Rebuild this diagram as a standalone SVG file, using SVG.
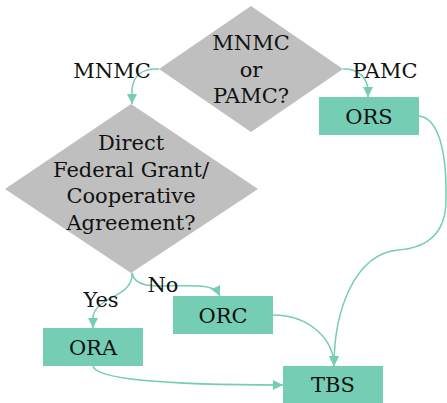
<svg xmlns="http://www.w3.org/2000/svg" width="447" height="403" viewBox="0 0 447 403">
<style>
.dec{fill:#bfbfbf}
.box{fill:#75cdb3}
.t{font-family:"DejaVu Serif",serif;font-size:21px;fill:#111;text-anchor:middle}
.e{fill:none;stroke:#75cdb3;stroke-width:1.5}
</style>
<defs>
<marker id="ah" viewBox="0 0 10 10" refX="10" refY="5" markerWidth="10" markerHeight="10" markerUnits="userSpaceOnUse" orient="auto">
<path d="M0,0 L10,5 L0,10 Z" fill="#75cdb3"/>
</marker>
</defs>
<rect width="447" height="403" fill="#fff"/>
<g id="q1">
<polygon class="dec" points="251,6 343,69 251,132 159,69"/>
<text class="t" x="251" y="50">MNMC</text>
<text class="t" x="251" y="77">or</text>
<text class="t" x="251" y="103">PAMC?</text>
</g>
<g id="q2">
<polygon class="dec" points="131,104 258,189 131,273 5,189"/>
<text class="t" x="131" y="150">Direct</text>
<text class="t" x="131" y="177">Federal Grant/</text>
<text class="t" x="131" y="203">Cooperative</text>
<text class="t" x="131" y="230">Agreement?</text>
</g>
<g id="ors">
<rect class="box" x="319" y="97" width="100" height="38"/>
<text class="t" x="369" y="124">ORS</text>
</g>
<g id="orc">
<rect class="box" x="173" y="296" width="100" height="38"/>
<text class="t" x="223" y="323">ORC</text>
</g>
<g id="ora">
<rect class="box" x="43" y="328" width="100" height="38"/>
<text class="t" x="93" y="355">ORA</text>
</g>
<g id="tbs">
<rect class="box" x="283" y="366" width="100" height="38"/>
<text class="t" x="333" y="392">TBS</text>
</g>
<g id="edges">
<path class="e" marker-end="url(#ah)" d="M159,69 C142,68 133,76 132,90 L132,104"/>
<path class="e" marker-end="url(#ah)" d="M343,69 C356,68 366,76 368,88 L368,97"/>
<path class="e" marker-end="url(#ah)" d="M419,116 C438,118 447,150 446,200 C446,236 425,248 398,250 C355,254 334,310 334,366"/>
<path class="e" marker-end="url(#ah)" d="M132,273 C134,298 94,296 93,318 L93,328"/>
<path class="e" marker-end="url(#ah)" d="M132,273 C136,292 165,284 200,286 C212,287 217,290 220,296"/>
<path class="e" marker-end="url(#ah)" d="M273,315 C310,315 334,340 334,366"/>
<path class="e" marker-end="url(#ah)" d="M93,366 C96,382 200,385 283,385"/>
<text class="t" x="112" y="78">MNMC</text>
<text class="t" x="385" y="78">PAMC</text>
<text class="t" x="101" y="307">Yes</text>
<text class="t" x="163" y="292">No</text>
</g>
</svg>
